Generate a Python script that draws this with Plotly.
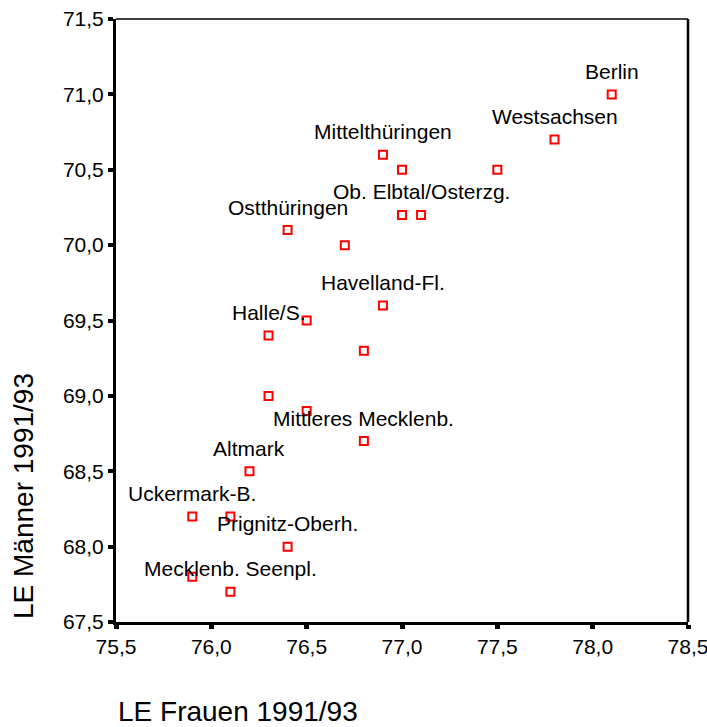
import plotly.graph_objects as go

# Life expectancy 1991/93 by planning region (east Germany)
le_frauen = [78.1, 77.8, 77.5, 76.9, 77.0, 77.0, 77.1, 76.4, 76.7, 76.9, 76.5,
             76.3, 76.8, 76.3, 76.5, 76.8, 76.2, 75.9, 76.1, 76.4, 75.9, 76.1]
le_maenner = [71.0, 70.7, 70.5, 70.6, 70.5, 70.2, 70.2, 70.1, 70.0, 69.6, 69.5,
              69.4, 69.3, 69.0, 68.9, 68.7, 68.5, 68.2, 68.2, 68.0, 67.8, 67.7]
region_labels = ["Berlin", "Westsachsen", "", "Mittelthüringen", "", "",
                 "Ob. Elbtal/Osterzg.", "Ostthüringen", "", "Havelland-Fl.", "",
                 "Halle/S.", "", "", "", "Mittleres Mecklenb.", "Altmark",
                 "Uckermark-B.", "", "Prignitz-Oberh.", "", "Mecklenb. Seenpl."]

x_ticks = [75.5, 76.0, 76.5, 77.0, 77.5, 78.0, 78.5]
y_ticks = [67.5, 68.0, 68.5, 69.0, 69.5, 70.0, 70.5, 71.0, 71.5]

FONT = "Liberation Sans, Arial, sans-serif"

fig = go.Figure()
fig.add_trace(go.Scatter(
    x=le_frauen, y=le_maenner, mode="markers",
    marker=dict(symbol="square-open", size=8, color="#ff0000",
                line=dict(width=2, color="#ff0000")),
    showlegend=False, hoverinfo="skip",
))

annotations = []
for xv, yv, lab in zip(le_frauen, le_maenner, region_labels):
    if lab:
        annotations.append(dict(
            x=xv, y=yv, xref="x", yref="y", text=lab, showarrow=False,
            xanchor="center", yanchor="middle", yshift=23,
            font=dict(family=FONT, size=21, color="#000000"),
        ))

# axis titles
annotations.append(dict(
    text="LE Frauen 1991/93", xref="paper", yref="paper",
    x=0, y=-0.149, xanchor="left", yanchor="middle", showarrow=False,
    font=dict(family=FONT, size=28, color="#000000"),
))
annotations.append(dict(
    text="LE Männer 1991/93", xref="paper", yref="paper",
    x=-0.1608, y=0.209, xanchor="center", yanchor="middle", showarrow=False,
    textangle=-90,
    font=dict(family=FONT, size=28, color="#000000"),
))

fig.update_layout(
    width=707, height=727,
    margin=dict(l=116, r=19, t=19, b=105, autoexpand=False),
    paper_bgcolor="white", plot_bgcolor="white",
    separators=",.",
    annotations=annotations,
    shapes=[
        dict(type="line", xref="x domain", yref="y domain",
             x0=0, x1=1, y0=1, y1=1, line=dict(color="black", width=1.5)),
        dict(type="line", xref="x domain", yref="y domain",
             x0=1, x1=1, y0=0, y1=1, line=dict(color="black", width=2.5)),
    ],
)

fig.update_xaxes(
    range=[75.5, 78.5], tickvals=x_ticks, tickformat=".1f",
    automargin=False, ticklabeloverflow="allow",
    showgrid=False, zeroline=False,
    showline=True, linecolor="black", linewidth=2.5,
    ticks="outside", ticklen=4, tickwidth=5, tickcolor="black",
    tickfont=dict(family=FONT, size=21, color="#000000"),
)
fig.update_yaxes(
    range=[67.5, 71.5], tickvals=y_ticks, tickformat=".1f",
    automargin=False, ticklabeloverflow="allow",
    showgrid=False, zeroline=False,
    showline=True, linecolor="black", linewidth=3,
    ticks="outside", ticklen=5, tickwidth=4, tickcolor="black",
    tickfont=dict(family=FONT, size=21, color="#000000"),
)

fig.write_html("out.html")
